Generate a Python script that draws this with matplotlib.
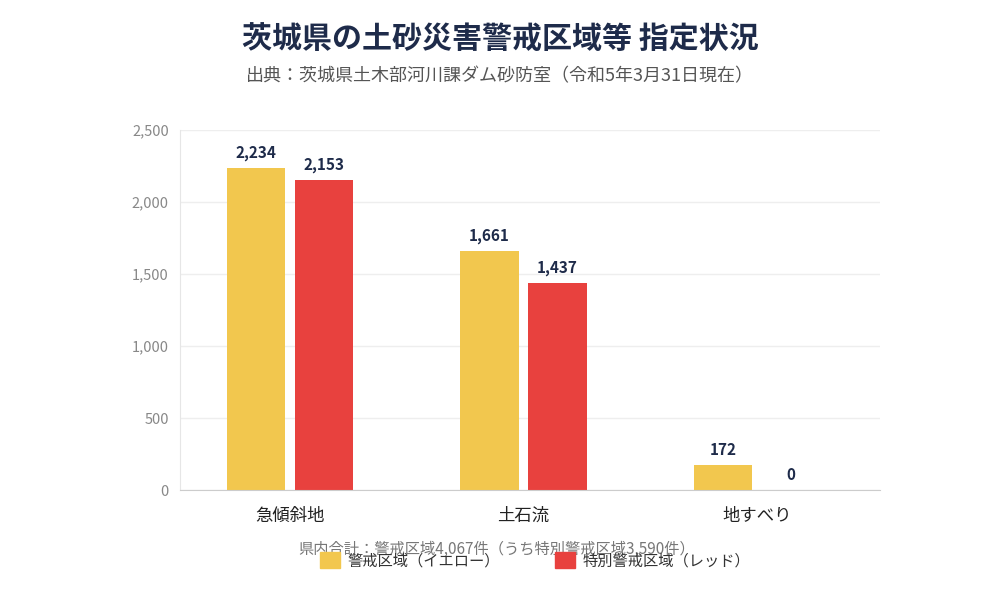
import matplotlib
matplotlib.use("Agg")
import matplotlib.pyplot as plt
from matplotlib.patches import Patch
import numpy as np

plt.rcParams['font.family'] = ['Noto Sans CJK JP', 'DejaVu Sans']

categories = ["急傾斜地", "土石流", "地すべり"]
yellow_vals = [2234, 1661, 172]
red_vals = [2153, 1437, 0]
series_names = ["警戒区域（イエロー）", "特別警戒区域（レッド）"]
yticks = [0, 500, 1000, 1500, 2000, 2500]

title = "茨城県の土砂災害警戒区域等 指定状況"
subtitle = "出典：茨城県土木部河川課ダム砂防室（令和5年3月31日現在）"
note = "県内合計：警戒区域4,067件（うち特別警戒区域3,590件）"

c_yellow = "#F2C74E"
c_red = "#E8413E"
c_navy = "#1E2B4A"

fig = plt.figure(figsize=(10, 6), dpi=100)
ax = fig.add_axes([0.18, 0.1833, 0.70, 0.60])

x = np.arange(len(categories))
w = 0.25
off = 0.146
b1 = ax.bar(x - off, yellow_vals, w, color=c_yellow)
b2 = ax.bar(x + off, red_vals, w, color=c_red)

for bars, vals in ((b1, yellow_vals), (b2, red_vals)):
    for rect, v in zip(bars, vals):
        ax.annotate(f"{v:,}", (rect.get_x() + rect.get_width() / 2, v),
                    xytext=(0, 5), textcoords="offset points",
                    ha="center", va="bottom", fontsize=11, fontweight="bold",
                    color=c_navy)

ax.set_xlim(-0.471, 2.527)
ax.set_ylim(0, 2500)
ax.set_yticks(yticks)
ax.set_yticklabels([f"{t:,}" for t in yticks])
ax.set_xticks(x)
ax.set_xticklabels(categories, fontsize=12.5, color="#222222")
ax.tick_params(axis="y", length=0, labelsize=10.5, labelcolor="#888888", pad=8)
ax.tick_params(axis="x", length=0, pad=12)
ax.grid(axis="y", color="#eeeeee", linewidth=1)
ax.set_axisbelow(True)
for s in ("top", "right"):
    ax.spines[s].set_visible(False)
ax.spines["left"].set_color("#e6e6e6")
ax.spines["bottom"].set_color("#cccccc")

fig.text(0.5, 0.935, title, ha="center", va="center", fontsize=21.6,
         fontweight="bold", color=c_navy)
fig.text(0.5, 0.873, subtitle, ha="center", va="center", fontsize=13,
         color="#555555")
fig.text(0.497, 0.085, note, ha="center", va="center", fontsize=11,
         color="#777777")

handles = [Patch(color=c_yellow), Patch(color=c_red)]
fig.legend(handles, series_names, loc="center", bbox_to_anchor=(0.535, 0.066),
           ncol=2, frameon=False, fontsize=11, handlelength=1.3,
           handleheight=1.3, columnspacing=3.6, handletextpad=0.5,
           labelcolor="#333333")

fig.savefig("out.png", dpi=100)
